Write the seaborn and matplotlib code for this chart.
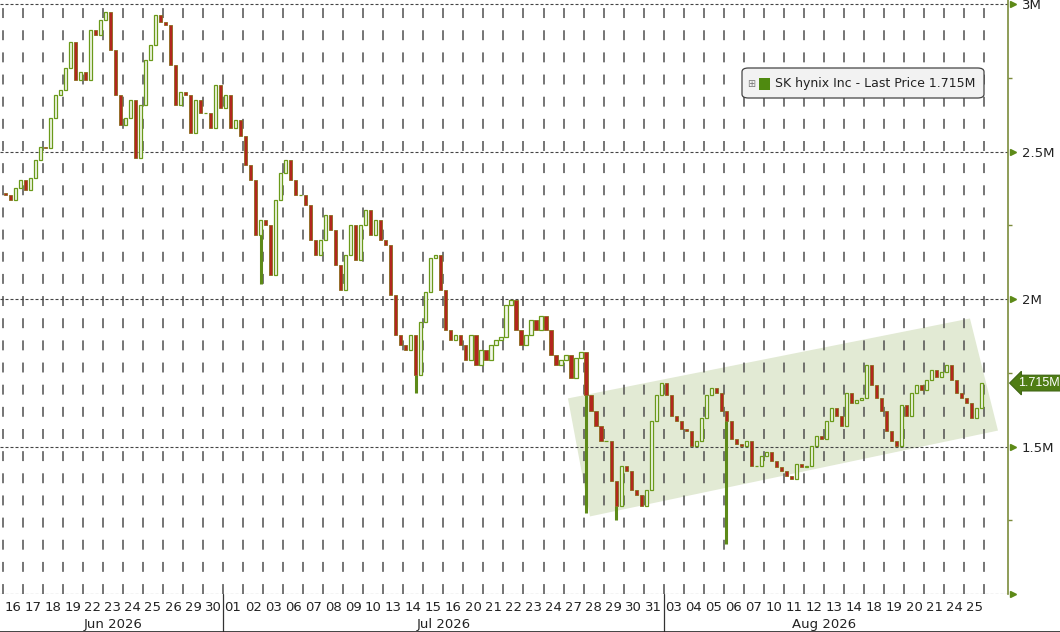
import numpy as np
import pandas as pd
import matplotlib
matplotlib.use("Agg")
import matplotlib.pyplot as plt
import matplotlib.transforms as mtransforms
from matplotlib.patches import Polygon, Rectangle, FancyBboxPatch
import seaborn as sns

# trading days shown on the axis
jun_days = ["16", "17", "18", "19", "22", "23", "24", "25", "26", "29", "30"]
jul_days = ["01", "02", "03", "06", "07", "08", "09", "10", "13", "14", "15",
            "16", "20", "21", "22", "23", "24", "27", "28", "29", "30", "31"]
aug_days = ["03", "04", "05", "06", "07", "10", "11", "12", "13", "14", "18",
            "19", "20", "21", "24", "25"]
months = ["Jun 2026", "Jul 2026", "Aug 2026"]

# intraday closes (four per day), in millions of KRW
jun_px = [
    [2.352, 2.335, 2.375, 2.403], [2.369, 2.409, 2.471, 2.515],
    [2.511, 2.613, 2.691, 2.708], [2.783, 2.871, 2.742, 2.769],
    [2.742, 2.912, 2.895, 2.946], [2.973, 2.844, 2.691, 2.589],
    [2.613, 2.674, 2.477, 2.657], [2.810, 2.861, 2.963, 2.939],
    [2.929, 2.793, 2.657, 2.701], [2.691, 2.562, 2.674, 2.630],
    [2.630, 2.579, 2.725, 2.647],
]
jul_px = [
    [2.691, 2.579, 2.606, 2.552], [2.454, 2.403, 2.216, 2.267],
    [2.250, 2.080, 2.335, 2.426], [2.471, 2.403, 2.352, 2.352],
    [2.318, 2.199, 2.148, 2.199], [2.284, 2.233, 2.114, 2.029],
    [2.148, 2.250, 2.131, 2.250], [2.301, 2.216, 2.267, 2.199],
    [2.182, 2.012, 1.877, 1.843], [1.826, 1.877, 1.741, 1.921],
    [2.023, 2.138, 2.148, 2.029], [1.894, 1.860, 1.877, 1.843],
    [1.792, 1.877, 1.775, 1.826], [1.792, 1.843, 1.860, 1.870],
    [1.978, 1.995, 1.894, 1.843], [1.877, 1.928, 1.894, 1.944],
    [1.894, 1.809, 1.775, 1.792], [1.809, 1.731, 1.799, 1.819],
    [1.673, 1.622, 1.571, 1.520], [1.520, 1.384, 1.300, 1.435],
    [1.418, 1.351, 1.334, 1.300], [1.351, 1.588, 1.673, 1.714],
]
aug_px = [
    [1.673, 1.605, 1.588, 1.561], [1.554, 1.503, 1.520, 1.595],
    [1.673, 1.697, 1.683, 1.622], [1.588, 1.527, 1.510, 1.503],
    [1.520, 1.435, 1.435, 1.469], [1.480, 1.452, 1.432, 1.418],
    [1.401, 1.391, 1.442, 1.429], [1.435, 1.503, 1.537, 1.527],
    [1.588, 1.629, 1.605, 1.571], [1.680, 1.649, 1.656, 1.666],
    [1.775, 1.707, 1.663, 1.622], [1.554, 1.520, 1.503, 1.639],
    [1.605, 1.680, 1.707, 1.690], [1.724, 1.758, 1.734, 1.751],
    [1.775, 1.724, 1.683, 1.666], [1.646, 1.598, 1.632, 1.715],
]
first_open = 2.36

# long lower wicks: (day index, candle in day, low)
spike_lows = [(12, 3, 2.05), (20, 2, 1.68), (29, 0, 1.273), (30, 2, 1.25), (36, 0, 1.171)]

# shaded channel corners (day position, price)
channel_x = [28.22, 48.29, 49.69, 29.32]
channel_y = [1.663, 1.934, 1.554, 1.263]

yticks = [1.0, 1.5, 2.0, 2.5, 3.0]
ytick_labels = ["", "1.5M", "2M", "2.5M", "3M"]

# ---- build candles
days = jun_days + jul_days + aug_days
prices = jun_px + jul_px + aug_px
rows = []
for d, vals in enumerate(prices):
    for k, v in enumerate(vals):
        rows.append({"day": d, "k": k, "x": d + (k + 0.5) / len(vals), "close": v})
df = pd.DataFrame(rows)
df["open"] = df["close"].shift(1).fillna(first_open)
df["up"] = df["close"] >= df["open"]
last = df["close"].iloc[-1]

sns.set_theme(style="white")
plt.rcParams["font.family"] = ["DejaVu Sans"]

fig = plt.figure(figsize=(10.6, 6.32), dpi=100)
fig.patch.set_facecolor("white")
ax = fig.add_axes([0, 1 - 594 / 632, 1008 / 1060, 594 / 632])
ax.set_facecolor("white")

ax.set_xlim(-0.135, 50.19)
ax.set_ylim(1.0, 3.0136)

# channel
ax.add_patch(Polygon(list(zip(channel_x, channel_y)), closed=True,
                     facecolor="#e2ead4", edgecolor="none", zorder=0))

# grid
ax.set_yticks(yticks)
ax.set_yticklabels(ytick_labels)
ax.grid(axis="y", which="major", ls=(0, (2.7, 1.8)), color="#444444", lw=0.8, zorder=1)
ax.set_xticks(np.arange(0, len(days) + 1), minor=True)
ax.grid(axis="x", which="minor", ls=(0, (6.5, 8)), color="#505050", lw=1.1, zorder=1)
ax.grid(axis="x", which="major", visible=False)

# wicks
for d, k, low in spike_lows:
    r = df[(df["day"] == d) & (df["k"] == k)].iloc[0]
    ax.vlines(r["x"], low, min(r["open"], r["close"]), color="#5d8a18", lw=2.2, zorder=2)

# bodies
w = 0.16
up = df[df["up"]]
dn = df[~df["up"]]
ax.bar(up["x"], up["close"] - up["open"], bottom=up["open"], width=w,
       facecolor="#f3f7ea", edgecolor="#6a9a1a", lw=0.9, zorder=3)
ax.bar(dn["x"], dn["close"] - dn["open"], bottom=dn["open"], width=w,
       facecolor="#b3261e", edgecolor="#8a6a1c", lw=0.6, zorder=3)

# spines
for s in ["top", "left", "bottom"]:
    ax.spines[s].set_visible(False)
ax.spines["right"].set_color("#7c8c3c")
ax.spines["right"].set_linewidth(1.2)

# right axis
ax.yaxis.tick_right()
ax.set_yticks(np.arange(1.25, 3.0, 0.5), minor=True)
ax.tick_params(axis="y", which="major", length=0, pad=10, labelsize=9.5, labelcolor="#222222")
ax.tick_params(axis="y", which="minor", direction="out", length=3, width=1, color="#7c8c3c", right=True)
arrow_tr = mtransforms.blended_transform_factory(ax.transAxes, ax.transData)
ax.plot([1 + 5 / 1008] * len(yticks), yticks, ls="none", marker=">", ms=5,
        color="#5d8a18", transform=arrow_tr, clip_on=False, zorder=5)

# day labels
ax.set_xticks(np.arange(len(days)) + 0.5)
ax.set_xticklabels(days)
ax.tick_params(axis="x", which="both", length=0, pad=5, labelsize=9.5, labelcolor="#222222")

# month labels and separators
bounds = [0, len(jun_days), len(jun_days) + len(jul_days), len(days)]
month_tr = mtransforms.blended_transform_factory(ax.transData, ax.transAxes)
for i, m in enumerate(months):
    ax.text((bounds[i] + bounds[i + 1]) / 2, -0.051, m, transform=month_tr,
            ha="center", va="center", fontsize=9.5, color="#222222")
for b in bounds[1:3]:
    ax.plot([b, b], [0, -0.07], transform=month_tr, color="#333333", lw=0.9, clip_on=False)
fig.add_artist(plt.Line2D([0, 1], [0.5 / 632, 0.5 / 632], color="#222222", lw=1.2))

# last price tag
ax.text(1 + 10 / 1008, last, f"{last:.3f}M", transform=arrow_tr, ha="left", va="center",
        fontsize=9, family="Liberation Sans", color="white", zorder=6,
        bbox=dict(boxstyle="larrow,pad=0.15", fc="#4f7d14", ec="#3d6410", lw=0.8))

# legend box
W, H = 1060, 632
fig.add_artist(FancyBboxPatch((742 / W, 1 - 98 / H), 242 / W, 30 / H,
                              boxstyle="round,pad=0,rounding_size=0.006",
                              transform=fig.transFigure, fc="#f2f2f2", ec="#444444", lw=0.9))
fig.text(775 / W, 1 - 84 / H, f"SK hynix Inc - Last Price {last:.3f}M",
         ha="left", va="center", fontsize=9, color="#222222")
fig.text(751 / W, 1 - 84 / H, "\u229e", ha="center", va="center", fontsize=7, color="#777777")
fig.add_artist(Rectangle((759 / W, 1 - 90 / H), 11 / W, 12 / H,
                         transform=fig.transFigure, fc="#4f8a10", ec="none"))

fig.savefig("out.png", dpi=100, facecolor="white")
